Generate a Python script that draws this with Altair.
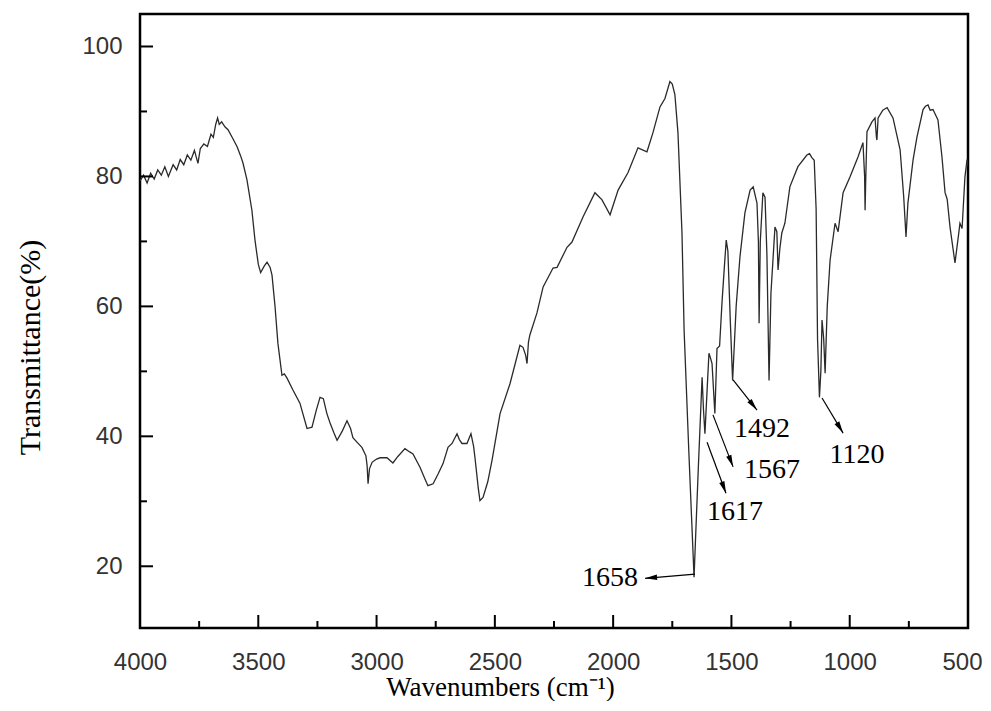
import math
import altair as alt
import pandas as pd

# ---------------- data ----------------
wavenumber = [
    4000, 3985, 3970, 3955, 3940, 3925, 3910, 3895, 3880, 3860, 3845, 3830, 3815,
    3800, 3785, 3770, 3755, 3745, 3730, 3715, 3700, 3690, 3680, 3672, 3665, 3655,
    3640, 3628, 3610, 3590, 3575, 3565, 3548, 3527, 3514, 3500, 3490, 3475, 3463,
    3450, 3442, 3429, 3417, 3400, 3390, 3379, 3353, 3324, 3294, 3273, 3255, 3239,
    3225, 3210, 3197, 3180, 3167, 3145, 3125, 3110, 3100, 3080, 3062, 3045, 3040,
    3036, 3030, 3019, 3000, 2985, 2956, 2931, 2910, 2880, 2860, 2846, 2816, 2795,
    2783, 2761, 2740, 2719, 2698, 2681, 2660, 2650, 2639, 2618, 2601, 2590, 2584,
    2570, 2563, 2550, 2530, 2512, 2478, 2436, 2394, 2381, 2370, 2364, 2358, 2352,
    2322, 2296, 2254, 2237, 2195, 2174, 2127, 2077, 2047, 2013, 1979, 1937, 1895,
    1857, 1832, 1802, 1781, 1760, 1750, 1739, 1726, 1709, 1700, 1680, 1658, 1650,
    1640, 1624, 1618, 1612, 1603, 1595, 1588, 1582, 1570, 1561, 1550, 1540, 1530,
    1522, 1515, 1505, 1495, 1480, 1464, 1443, 1421, 1408, 1392, 1386, 1383, 1378,
    1367, 1358, 1350, 1341, 1333, 1316, 1308, 1303, 1295, 1287, 1274, 1253, 1219,
    1181, 1170, 1160, 1150, 1142, 1136, 1128, 1122, 1117, 1110, 1104, 1095, 1083,
    1062, 1049, 1028, 999, 965, 944, 937, 935, 932, 927, 906, 893, 887, 885, 880,
    860, 842, 817, 787, 772, 762, 754, 732, 716, 690, 680, 669, 660, 648, 627, 610,
    597, 588, 576, 555, 540, 534, 525, 513, 504, 500,
]
transmittance = [
    79.3, 80.2, 79.0, 80.5, 79.6, 81.0, 80.2, 81.5, 80.0, 81.8, 81.0, 82.6, 81.8,
    83.3, 82.5, 84.0, 82.0, 84.3, 85.0, 84.6, 86.5, 86.0, 88.0, 89.0, 88.0, 88.4,
    87.6, 87.2, 86.0, 84.6, 83.2, 82.1, 79.5, 74.8, 70.2, 66.5, 65.2, 66.2, 66.8,
    66.0, 64.8, 59.9, 54.3, 49.4, 49.6, 49.0, 47.1, 45.1, 41.2, 41.4, 44.0, 46.0,
    45.8, 43.5, 42.1, 40.5, 39.4, 40.8, 42.4, 41.2, 39.8, 39.0, 38.3, 37.0, 35.5,
    32.7, 35.0, 36.0, 36.5, 36.7, 36.7, 35.9, 36.9, 38.1, 37.6, 37.3, 35.2, 33.4,
    32.4, 32.7, 34.2, 35.8, 38.3, 38.9, 40.4, 39.5, 38.9, 38.9, 40.4, 38.5, 36.7,
    32.0, 30.1, 30.6, 33.0, 36.3, 43.5, 48.1, 54.0, 53.7, 52.5, 51.2, 54.5, 55.6,
    59.0, 63.0, 65.9, 66.0, 69.1, 69.9, 73.8, 77.5, 76.4, 74.1, 77.9, 80.6, 84.4,
    83.8, 86.7, 90.7, 92.0, 94.6, 94.2, 92.6, 86.7, 71.3, 56.3, 37.6, 18.3, 25.8,
    35.1, 49.1, 44.0, 40.4, 47.0, 52.8, 52.0, 51.2, 43.5, 53.5, 53.9, 60.5, 66.0,
    70.2, 68.5, 58.0, 48.6, 60.0, 67.6, 74.4, 77.9, 78.4, 75.9, 70.0, 57.4, 70.0,
    77.5, 76.8, 68.0, 48.6, 62.0, 72.2, 71.5, 65.6, 69.0, 71.3, 72.8, 78.4, 81.5,
    83.3, 83.5, 82.9, 82.5, 75.0, 55.0, 46.0, 50.0, 57.9, 55.0, 49.7, 60.0, 67.1,
    72.8, 71.5, 77.5, 79.9, 83.0, 85.2, 80.0, 74.8, 80.0, 86.9, 88.4, 89.0, 86.0,
    85.6, 89.0, 90.2, 90.6, 89.0, 84.1, 77.0, 70.7, 75.9, 82.6, 86.0, 90.3, 90.8,
    91.0, 90.2, 90.3, 88.7, 83.0, 77.5, 76.5, 72.2, 66.7, 71.0, 72.8, 72.0, 79.9,
    82.6, 81.5,
]

# peak annotations
peak_labels = ["1658", "1617", "1567", "1492", "1120"]
arrow_from_wn = [1654, 1603, 1578, 1493, 1117]
arrow_from_t = [18.8, 39.1, 43.3, 48.7, 45.9]
arrow_to_wn = [1865, 1523, 1493, 1392, 1028]
arrow_to_t = [18.15, 31.25, 35.3, 44.05, 40.5]
label_wn = [2013, 1485, 1328, 1371, 969]
label_t = [18.15, 28.3, 34.8, 41.1, 37.1]

# axis ticks
x_labels = [4000, 3500, 3000, 2500, 2000, 1500, 1000, 500]
x_major = [3500, 3000, 2500, 2000, 1500, 1000]
x_minor = [3750, 3250, 2750, 2250, 1750, 1250, 750]
y_labels = [20, 40, 60, 80, 100]
y_major = [20, 40, 60, 80, 100]
y_minor = [30, 50, 70, 90]

# ---------------- layout ----------------
W, H = 828, 614
X_DOM = [500, 4000]
Y_DOM = [10.5, 105]

xs = alt.Scale(domain=X_DOM, reverse=True, nice=False, zero=False)
ys = alt.Scale(domain=Y_DOM, nice=False, zero=False)

spec = pd.DataFrame({"wn": wavenumber, "t": transmittance})

x_axis = alt.Axis(
    values=x_labels, format="d", grid=False, domain=False, ticks=False, tickSize=0,
    labelFont="Liberation Sans", labelFontSize=24, labelColor="#333333",
    labelPadding=22, labelFlush=False, labelOverlap=False,
    labelOffset={"condition": {"test": "datum.value == 500", "value": -6}, "value": 0},
    title="Wavenumbers (cm⁻¹)", titleFont="Liberation Serif", titleFontSize=27,
    titleFontWeight="normal", titleColor="black", titleX=360, titleY=59,
    titleAlign="center", titleBaseline="middle",
)
y_axis = alt.Axis(
    values=y_labels, format="d", grid=False, domain=False, ticks=False, tickSize=0,
    labelFont="Liberation Sans", labelFontSize=24, labelColor="#333333",
    labelPadding=18, labelOverlap=False,
    title="Transmittance(%)", titleFont="Liberation Serif", titleFontSize=30,
    titleFontWeight="normal", titleColor="black", titleX=-110, titleY=333,
    titleAngle=270, titleAlign="center", titleBaseline="middle",
)

line = alt.Chart(spec).mark_line(color="#2a2a2a", strokeWidth=1.3, clip=True).encode(
    x=alt.X("wn:Q", scale=xs, axis=x_axis),
    y=alt.Y("t:Q", scale=ys, axis=y_axis),
    order=alt.Order("wn:Q", sort="descending"),
)

# inward tick marks
def xticks(vals, length):
    return alt.Chart(pd.DataFrame({"v": vals})).mark_rule(color="black", strokeWidth=2).encode(
        x=alt.X("v:Q", scale=xs), y=alt.value(H), y2=alt.value(H - length)
    )

def yticks(vals, length):
    return alt.Chart(pd.DataFrame({"v": vals})).mark_rule(color="black", strokeWidth=2).encode(
        y=alt.Y("v:Q", scale=ys), x=alt.value(0), x2=alt.value(length)
    )

# annotations
px_per_wn = W / (X_DOM[1] - X_DOM[0])
px_per_t = H / (Y_DOM[1] - Y_DOM[0])
angles = []
for fw, ft, tw, tt in zip(arrow_from_wn, arrow_from_t, arrow_to_wn, arrow_to_t):
    dx = -(tw - fw) * px_per_wn
    dy = -(tt - ft) * px_per_t
    angles.append(math.degrees(math.atan2(dx, -dy)) % 360)

ann = pd.DataFrame({
    "label": peak_labels,
    "fw": arrow_from_wn, "ft": arrow_from_t,
    "tw": arrow_to_wn, "tt": arrow_to_t,
    "lw": label_wn, "lt": label_t,
    "angle": angles,
})

arrows = alt.Chart(ann).mark_rule(color="black", strokeWidth=1.2).encode(
    x=alt.X("fw:Q", scale=xs), y=alt.Y("ft:Q", scale=ys),
    x2="tw:Q", y2="tt:Q",
)
heads = alt.Chart(ann).mark_point(
    shape="M0,0L0.55,2.4L-0.55,2.4Z", filled=True, color="black", opacity=1, size=100
).encode(
    x=alt.X("tw:Q", scale=xs), y=alt.Y("tt:Q", scale=ys),
    angle=alt.Angle("angle:Q", scale=None),
)
texts = alt.Chart(ann).mark_text(
    font="Liberation Serif", fontSize=28, color="black", align="center", baseline="middle"
).encode(
    x=alt.X("lw:Q", scale=xs), y=alt.Y("lt:Q", scale=ys), text="label:N"
)

chart = alt.layer(
    line,
    xticks(x_major, 13), xticks(x_minor, 7),
    yticks(y_major, 13), yticks(y_minor, 7),
    arrows, heads, texts,
).properties(
    width=W, height=H,
    autosize=alt.AutoSizeParams(type="none"),
    padding={"left": 132, "top": 6, "right": 15, "bottom": 73},
    background="white",
).configure_view(stroke="black", strokeWidth=2.5)

chart.save("out.html", embed_options={"renderer": "svg", "actions": False})
